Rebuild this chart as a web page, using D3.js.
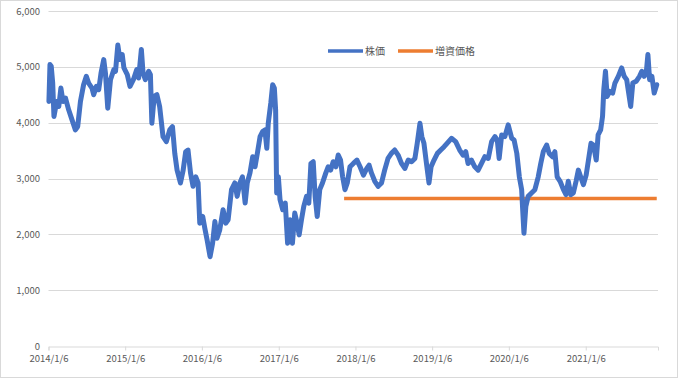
<!DOCTYPE html>
<html>
<head>
<meta charset="utf-8">
<script src="https://cdn.jsdelivr.net/npm/d3@7"></script>
<style>
  body { margin: 0; background: #fff; }
  svg { display: block; font-family: "Noto Sans CJK JP", "Noto Sans", sans-serif; }
</style>
</head>
<body>
<svg id="chart" width="678" height="378"></svg>
<script>
// stock price (date, price)
const priceDates = [
  "2014-01-08","2014-01-13","2014-01-19","2014-01-26","2014-02-01","2014-02-14","2014-02-24","2014-03-06","2014-03-16","2014-03-28",
  "2014-04-12","2014-04-28","2014-05-14","2014-05-25","2014-06-07","2014-06-22","2014-07-05","2014-07-16","2014-08-01","2014-08-09",
  "2014-08-22","2014-09-02","2014-09-13","2014-09-26","2014-10-04","2014-10-15","2014-10-28","2014-11-13","2014-11-21","2014-12-02",
  "2014-12-12","2014-12-23","2014-12-31","2015-01-16","2015-01-29","2015-02-14","2015-03-02","2015-03-11","2015-03-24","2015-04-01",
  "2015-04-12","2015-04-28","2015-05-06","2015-05-13","2015-05-24","2015-06-06","2015-06-19","2015-07-05","2015-07-21","2015-08-06",
  "2015-08-19","2015-08-30","2015-09-10","2015-09-26","2015-10-09","2015-10-21","2015-11-01","2015-11-13","2015-11-25","2015-12-08",
  "2015-12-19","2015-12-27","2016-01-10","2016-01-20","2016-01-31","2016-02-14","2016-02-26","2016-03-08","2016-03-18","2016-03-31",
  "2016-04-16","2016-04-29","2016-05-10","2016-05-26","2016-06-11","2016-06-22","2016-07-05","2016-07-17","2016-07-30","2016-08-09",
  "2016-08-22","2016-09-04","2016-09-15","2016-09-26","2016-10-09","2016-10-21","2016-11-01","2016-11-10","2016-11-17","2016-11-29",
  "2016-12-08","2016-12-16","2016-12-22","2016-12-27","2017-01-04","2017-01-12","2017-01-25","2017-02-06","2017-02-17","2017-03-01",
  "2017-03-12","2017-03-23","2017-04-03","2017-04-13","2017-04-24","2017-05-05","2017-05-18","2017-05-29","2017-06-08","2017-06-19",
  "2017-06-28","2017-07-08","2017-07-20","2017-08-02","2017-08-18","2017-08-29","2017-09-10","2017-09-22","2017-10-05","2017-10-16",
  "2017-10-27","2017-11-06","2017-11-17","2017-11-28","2017-12-11","2017-12-27","2018-01-13","2018-01-28","2018-02-13","2018-03-01",
  "2018-03-12","2018-03-23","2018-04-08","2018-04-24","2018-05-10","2018-05-25","2018-06-10","2018-06-26","2018-07-12","2018-07-28",
  "2018-08-13","2018-08-29","2018-09-14","2018-09-30","2018-10-16","2018-10-27","2018-11-09","2018-11-18","2018-11-28","2018-12-11",
  "2018-12-22","2019-01-01","2019-01-15","2019-01-31","2019-02-16","2019-03-04","2019-03-18","2019-04-08","2019-04-28","2019-05-17",
  "2019-06-02","2019-06-15","2019-06-26","2019-07-12","2019-07-28","2019-08-13","2019-08-29","2019-09-14","2019-09-30","2019-10-16",
  "2019-11-01","2019-11-12","2019-11-21","2019-12-03","2019-12-18","2020-01-03","2020-01-20","2020-01-31","2020-02-13","2020-02-25",
  "2020-03-07","2020-03-12","2020-03-18","2020-03-27","2020-04-07","2020-04-23","2020-05-09","2020-05-25","2020-06-06","2020-06-18",
  "2020-07-04","2020-07-16","2020-08-01","2020-08-12","2020-08-23","2020-09-06","2020-09-22","2020-10-04","2020-10-15","2020-10-27",
  "2020-11-08","2020-11-21","2020-12-02","2020-12-13","2020-12-26","2021-01-08","2021-01-19","2021-01-31","2021-02-12","2021-02-25",
  "2021-03-06","2021-03-18","2021-03-27","2021-04-02","2021-04-10","2021-04-18","2021-05-01","2021-05-14","2021-05-25","2021-06-10",
  "2021-06-26","2021-07-08","2021-07-20","2021-07-27","2021-08-08","2021-08-18","2021-09-03","2021-09-19","2021-09-30","2021-10-11",
  "2021-10-21","2021-10-29","2021-11-06","2021-11-17","2021-11-28","2021-12-10"
];
const prices = [
  4380,5040,5010,4710,4110,4380,4290,4620,4380,4440,
  4230,4050,3870,3930,4380,4680,4830,4710,4620,4500,
  4650,4590,4890,5130,4890,4260,4770,4950,4920,5390,
  5130,5220,4980,4860,4650,4770,4950,4800,5310,4890,
  4770,4920,4860,3990,4470,4500,4290,3750,3660,3870,
  3930,3450,3150,2920,3150,3480,3510,3100,2860,3030,
  2920,2200,2320,2110,1900,1600,1840,2230,1930,2080,
  2440,2200,2260,2800,2920,2680,2920,3030,2560,2920,
  3100,3390,3210,3450,3750,3840,3870,3540,3990,4350,
  4680,4620,4230,2740,3030,2620,2440,2560,1840,2260,
  1840,2380,2200,1990,2260,2500,2680,2560,3270,3300,
  2680,2320,2800,2920,3100,3210,3150,3300,3210,3420,
  3330,3030,2800,2920,3210,3270,3330,3210,3060,3180,
  3240,3100,2950,2860,2920,3150,3360,3450,3510,3420,
  3270,3180,3330,3300,3360,3630,3990,3750,3630,3240,
  2920,3210,3330,3450,3510,3570,3630,3720,3660,3510,
  3420,3480,3270,3330,3210,3150,3270,3390,3360,3660,
  3750,3690,3360,3780,3750,3960,3720,3690,3450,3030,
  2800,2440,2020,2500,2680,2740,2800,3030,3270,3480,
  3600,3450,3390,3480,3030,2950,2800,2710,2950,2710,
  2740,2950,3150,3030,2890,3060,3330,3630,3600,3330,
  3780,3870,4110,4590,4920,4470,4560,4530,4710,4830,
  4980,4830,4770,4590,4290,4710,4740,4830,4920,4830,
  4890,5220,4770,4830,4530,4680
];

// new share (増資) price line
const offerDates = ["2017-11-13", "2021-12-10"];
const offerPrices = [2640, 2640];

const seriesNames = ["株価", "増資価格"];
const seriesColors = ["#4472C4", "#ED7D31"];

const yTicks = [0, 1000, 2000, 3000, 4000, 5000, 6000];
const xTickLabels = ["2014/1/6", "2015/1/6", "2016/1/6", "2017/1/6", "2018/1/6", "2019/1/6", "2020/1/6", "2021/1/6"];
const xDomain = ["2014-01-06", "2021-12-16"];

const parseDate = d3.timeParse("%Y-%m-%d");
const parseTick = d3.timeParse("%Y/%m/%d");

const svg = d3.select("#chart");
const W = 678, H = 378;
const m = { left: 48.5, right: 20, top: 11, bottom: 32 };

svg.append("rect")
  .attr("x", 0.5).attr("y", 0.5)
  .attr("width", W - 1).attr("height", H - 1)
  .attr("fill", "#fff").attr("stroke", "#d9d9d9");

const x = d3.scaleTime()
  .domain(xDomain.map(parseDate))
  .range([m.left, W - m.right]);

const y = d3.scaleLinear()
  .domain([0, 6000])
  .range([H - m.bottom, m.top]);

// gridlines
svg.append("g")
  .selectAll("line")
  .data(yTicks.filter(d => d > 0))
  .join("line")
  .attr("x1", m.left).attr("x2", W - m.right)
  .attr("y1", d => Math.round(y(d)) + 0.5)
  .attr("y2", d => Math.round(y(d)) + 0.5)
  .attr("stroke", "#d9d9d9").attr("stroke-width", 1);

// y labels
svg.append("g")
  .selectAll("text")
  .data(yTicks)
  .join("text")
  .attr("x", 40)
  .attr("y", d => y(d) + 3.5)
  .attr("text-anchor", "end")
  .attr("font-size", 9.5)
  .attr("fill", "#595959")
  .text(d3.format(","));

// x axis
const fmtTick = d => `${d.getFullYear()}/${d.getMonth() + 1}/${d.getDate()}`;
const xAxis = d3.axisBottom(x)
  .tickValues(xTickLabels.map(parseTick))
  .tickFormat(fmtTick)
  .tickSizeOuter(0)
  .tickSize(4)
  .tickPadding(5);

const gx = svg.append("g")
  .attr("transform", `translate(0,${Math.round(y(0)) + 0.5})`)
  .call(xAxis);
gx.select(".domain").attr("stroke", "#d9d9d9");
gx.selectAll(".tick line").attr("stroke", "#d9d9d9");
gx.selectAll(".tick text")
  .attr("fill", "#595959")
  .attr("font-size", 9.5)
  .attr("font-family", "\"Noto Sans CJK JP\", sans-serif");

const line = d3.line()
  .x(d => x(d[0]))
  .y(d => y(d[1]));

const priceData = priceDates.map((d, i) => [parseDate(d), prices[i]]);
const offerData = offerDates.map((d, i) => [parseDate(d), offerPrices[i]]);

svg.append("path")
  .datum(offerData)
  .attr("d", line)
  .attr("fill", "none")
  .attr("stroke", seriesColors[1])
  .attr("stroke-width", 3.5);

svg.append("path")
  .datum(priceData)
  .attr("d", line)
  .attr("fill", "none")
  .attr("stroke", seriesColors[0])
  .attr("stroke-width", 5)
  .attr("stroke-linejoin", "round")
  .attr("stroke-linecap", "round");

// legend
const legendX = [328, 398];
const lg = svg.append("g")
  .selectAll("g")
  .data(seriesNames)
  .join("g")
  .attr("transform", (d, i) => `translate(${legendX[i]},51)`);
lg.append("line")
  .attr("x1", 0).attr("x2", 35)
  .attr("stroke", (d, i) => seriesColors[i])
  .attr("stroke-width", 3.5);
lg.append("text")
  .attr("x", 37).attr("y", 3.5)
  .attr("font-size", 10)
  .attr("fill", "#595959")
  .text(d => d);
</script>
</body>
</html>
